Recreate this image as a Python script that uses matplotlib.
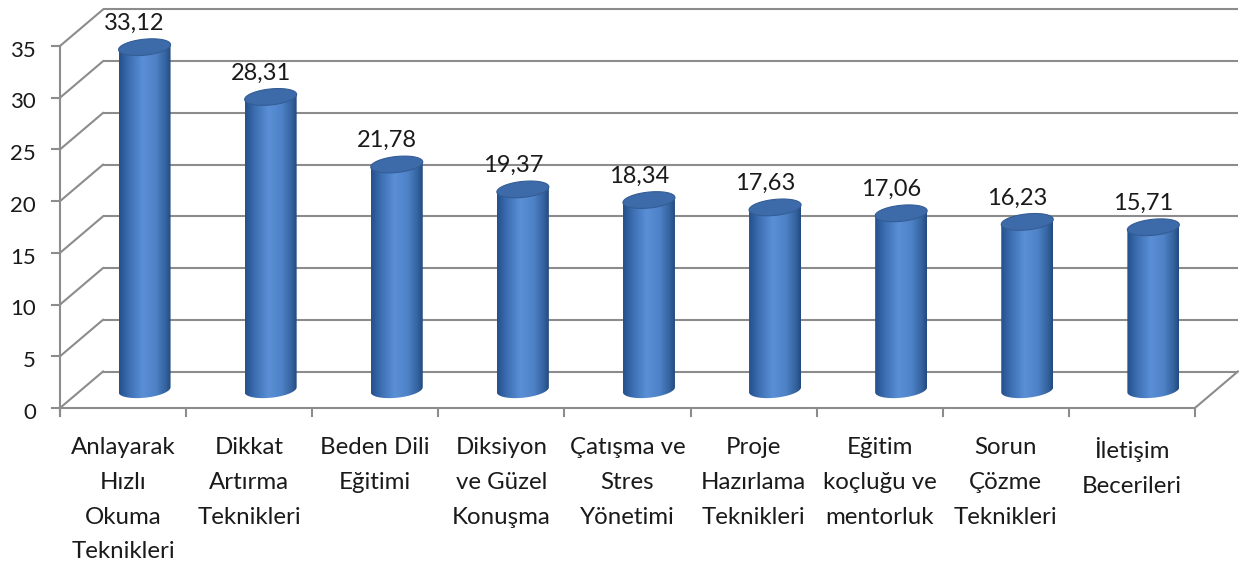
import numpy as np
import matplotlib
matplotlib.use("Agg")
import matplotlib.pyplot as plt
from matplotlib.path import Path
from matplotlib.patches import PathPatch, Polygon
from matplotlib.colors import LinearSegmentedColormap

categories = [
    "Anlayarak\nHızlı\nOkuma\nTeknikleri",
    "Dikkat\nArtırma\nTeknikleri",
    "Beden Dili\nEğitimi",
    "Diksiyon\nve Güzel\nKonuşma",
    "Çatışma ve\nStres\nYönetimi",
    "Proje\nHazırlama\nTeknikleri",
    "Eğitim\nkoçluğu ve\nmentorluk",
    "Sorun\nÇözme\nTeknikleri",
    "İletişim\nBecerileri",
]
values = [33.12, 28.31, 21.78, 19.37, 18.34, 17.63, 17.06, 16.23, 15.71]
yticks = [0, 5, 10, 15, 20, 25, 30, 35]

plt.rcParams['font.family'] = ['Lato', 'DejaVu Sans']

W, H = 1243, 572
fig = plt.figure(figsize=(W / 100, H / 100), dpi=100)
ax = fig.add_axes([0, 0, 1, 1])
ax.axis('off')

# pixel geometry of the front plane
x0px, catpx = 60, 126.1
y0px, unitpx = 408, 10.343
ax.set_xlim(-0.5 - x0px / catpx, -0.5 + (W - x0px) / catpx)
ax.set_ylim((y0px - H) / unitpx, y0px / unitpx)

n = len(values)
DX = 43 / catpx
DY = 36.5 / unitpx
ymax = yticks[-1]
gc = '#8c8c8c'
glw = 1.5

# back wall gridlines and side diagonals
for t in yticks:
    ax.plot([-0.5 + DX, n - 0.5 + DX], [t + DY, t + DY], color=gc, lw=glw, zorder=1, solid_capstyle='butt')
    ax.plot([-0.5, -0.5 + DX], [t, t + DY], color=gc, lw=glw, zorder=1)
    ax.plot([-0.5 - 8 / catpx, -0.5], [t, t], color=gc, lw=glw, zorder=1)
    ax.text(-0.5 - 24 / catpx, t - 0.45, str(t), ha='right', va='center', fontsize=16, color='#1a1a1a')
# front axis and floor
ax.plot([-0.5, -0.5], [-8 / unitpx, ymax], color=gc, lw=glw, zorder=1)
ax.plot([-0.5, n - 0.5], [0, 0], color=gc, lw=glw, zorder=1)
ax.plot([n - 0.5, n - 0.5 + DX], [0, DY], color=gc, lw=glw, zorder=1)
for k in range(n + 1):
    ax.plot([k - 0.5, k - 0.5], [0, -8 / unitpx], color=gc, lw=glw, zorder=1)

cmap = LinearSegmentedColormap.from_list('cyl', [
    (0.0, '#24508c'), (0.2, '#3d6fb3'), (0.45, '#5a8fd6'),
    (0.7, '#4f83c8'), (0.9, '#34639f'), (1.0, '#23497f')])
grad = np.linspace(0, 1, 256)[None, :]

w = 52 / catpx
a = w / 2
b = 8 / unitpx
k = 2.5 / unitpx
tt = np.linspace(np.pi, 2 * np.pi, 60)
tf = np.linspace(0, 2 * np.pi, 120)
for i, v in enumerate(values):
    cx = i + DX / 2
    yb = DY / 2
    yt = v + DY / 2
    xs = cx + a * np.cos(tt)
    ys = yb + b * np.sin(tt) + k * np.cos(tt)
    verts = list(zip(xs, ys)) + [(cx + a, yt + k), (cx - a, yt - k), (xs[0], ys[0])]
    body = PathPatch(Path(verts, closed=True), facecolor='none', edgecolor='none', zorder=3)
    ax.add_patch(body)
    im = ax.imshow(grad, cmap=cmap, aspect='auto', extent=[cx - a, cx + a, yb - b - k, yt + k],
                   origin='lower', zorder=3, interpolation='bilinear')
    im.set_clip_path(body)
    ex = cx + a * np.cos(tf)
    ey = yt + b * np.sin(tf) + k * np.cos(tf)
    ax.add_patch(Polygon(np.column_stack([ex, ey]), closed=True, facecolor='#3d6aa8',
                         edgecolor='#345d96', lw=0.8, zorder=4))
    ax.text(cx - 0.08, yt + b + 0.5, f"{v:.2f}".replace('.', ','), ha='center', va='bottom',
            fontsize=17, color='#1a1a1a', zorder=5)
    ax.text(i, -2.85, categories[i], ha='center', va='top', fontsize=17.3, color='#1a1a1a',
            linespacing=1.8)

fig.savefig('out.png', dpi=100)
